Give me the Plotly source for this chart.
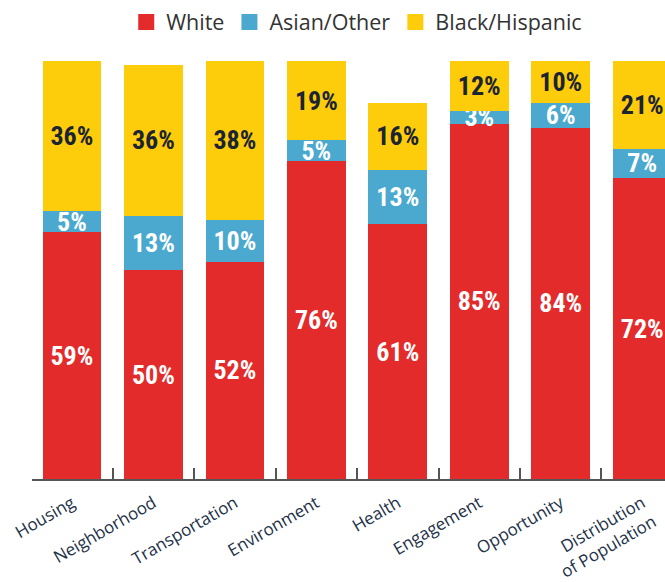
import plotly.graph_objects as go

categories = ["Housing", "Neighborhood", "Transportation", "Environment",
              "Health", "Engagement", "Opportunity", "Distribution<br>of Population"]
white = [59, 50, 52, 76, 61, 85, 84, 72]
asian_other = [5, 13, 10, 5, 13, 3, 6, 7]
black_hispanic = [36, 36, 38, 19, 16, 12, 10, 21]

series = [
    ("White", white, "#E32B2B", "white"),
    ("Asian/Other", asian_other, "#4BA9CF", "white"),
    ("Black/Hispanic", black_hispanic, "#FDCC0A", "#1B2433"),
]

idx = list(range(len(categories)))
label_font = "Noto Sans Condensed, Roboto Condensed, Liberation Sans Narrow, Roboto"
text_font = "Open Sans, sans-serif"
label_size = 26

fig = go.Figure()
for name, vals, color, txtcolor in series:
    fig.add_trace(go.Bar(
        x=idx, y=vals, name=name, showlegend=False,
        marker=dict(color=color, line=dict(width=0)),
        text=[f"{v}%" for v in vals], texttemplate="<b>%{text}</b>",
        textposition="inside", insidetextanchor="middle", textangle=0,
        textfont=dict(family=label_font, size=label_size, color=txtcolor),
        hoverinfo="skip",
    ))
    # legend swatch
    fig.add_trace(go.Scatter(
        x=[None], y=[None], mode="markers", name=name,
        marker=dict(symbol="square", size=20, color=color),
    ))

fig.update_layout(
    width=665, height=582,
    margin=dict(l=32, r=0, t=61, b=103),
    barmode="stack", bargap=0.28,
    plot_bgcolor="white", paper_bgcolor="white",
    uniformtext=dict(minsize=label_size, mode="show"),
    legend=dict(orientation="h", x=0.513, xanchor="center", y=1.093, yanchor="middle",
                font=dict(family=text_font, size=21.5, color="#333333"),
                itemwidth=30, traceorder="normal"),
    xaxis=dict(range=[-0.49, 7.28], tickmode="array", tickvals=idx, ticktext=categories,
               tickangle=-30, ticks="", showgrid=False, zeroline=False,
               showline=True, linecolor="#555555", linewidth=1.5, ticklabelstandoff=6,
               tickfont=dict(family=text_font, size=17, color="#1D3149"),
               minor=dict(tickmode="linear", tick0=0.5, dtick=1, ticks="inside",
                          ticklen=11, tickwidth=1.5, tickcolor="#555555", showgrid=False)),
    yaxis=dict(range=[0, 100], visible=False),
)

fig.write_html("out.html")
